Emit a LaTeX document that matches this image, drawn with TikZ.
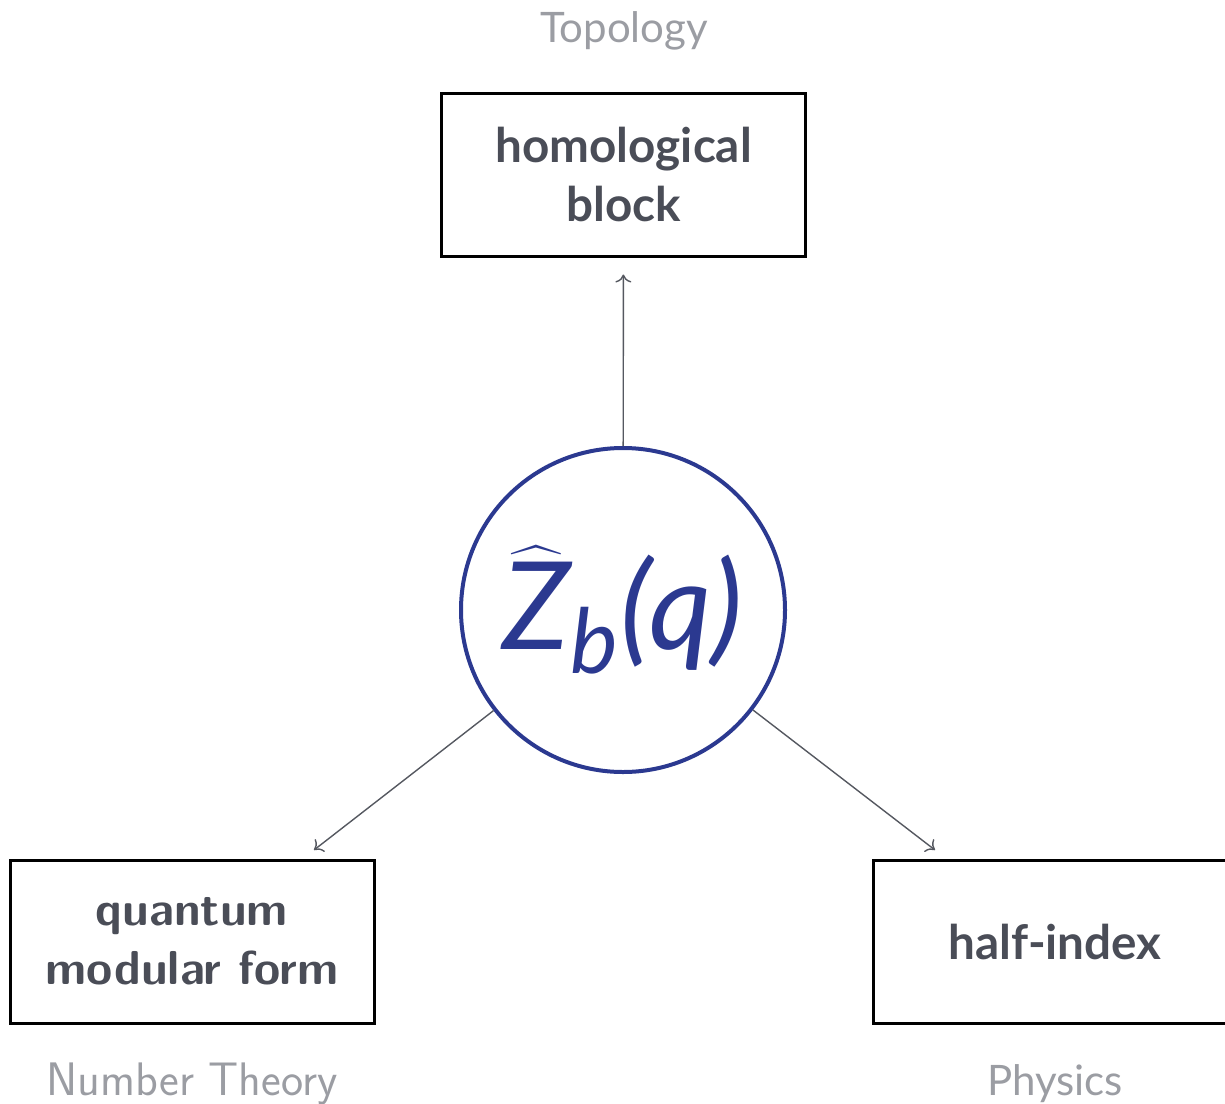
\documentclass[tikz,border=0pt]{standalone}
\usepackage{fontspec}
\usepackage{amsmath}
\setmainfont{Lato}
\usetikzlibrary{arrows.meta}

\definecolor{boxtext}{HTML}{4A4D57}
\definecolor{fieldgray}{HTML}{9B9DA3}
\definecolor{zblue}{HTML}{2B3990}
\definecolor{arrowgray}{HTML}{555860}

\begin{document}
\begin{tikzpicture}[x=0.5pt,y=-0.5pt,
  area/.style={text=fieldgray,font=\fontsize{21}{24}\selectfont},
  topic/.style={draw=black,line width=1.5pt,minimum width=182pt,minimum height=81.5pt,
    align=center,text=boxtext,font=\fontsize{23.8}{29.5}\selectfont\bfseries},
  link/.style={draw=arrowgray,line width=0.7pt,-{To[length=4pt,width=8pt]}}]
  \clip (0,0) rectangle (1225,1103);
  % centre
  \node[circle,draw=zblue,line width=2pt,minimum size=162pt,inner sep=0pt,text=zblue,
    font=\fontsize{61}{65}\selectfont] (zhat) at (623,610)
    {$\widehat{\text{\itshape Z}}\raisebox{-12pt}{\fontsize{45}{45}\selectfont\itshape b}\mkern1mu\text{\itshape (q)}$};
  % boxes
  \node[topic] (hblock) at (623.5,174.5) {homological\\block};
  \node[topic,font=\fontsize{23.8}{29.5}\sffamily\bfseries\selectfont] (qmf) at (192,941.5) {quantum\\modular\ form};
  \node[topic] (hindex) at (1055,941.5) {half-index};
  % fields
  \node[area] (topo) at (624,31) {Topology};
  \node[area,font=\fontsize{23.5}{26}\sffamily\selectfont] (numth) at (192,1084) {Number\ Theory};
  \node[area] (phys) at (1055,1084) {Physics};
  \coordinate (qmfend) at (314,850);
  \coordinate (hindexend) at (935,850);
  \draw[link,shorten >=8.5pt] (zhat) -- (hblock);
  \draw[link] (zhat) -- (qmfend);
  \draw[link] (zhat) -- (hindexend);
\end{tikzpicture}
\end{document}
